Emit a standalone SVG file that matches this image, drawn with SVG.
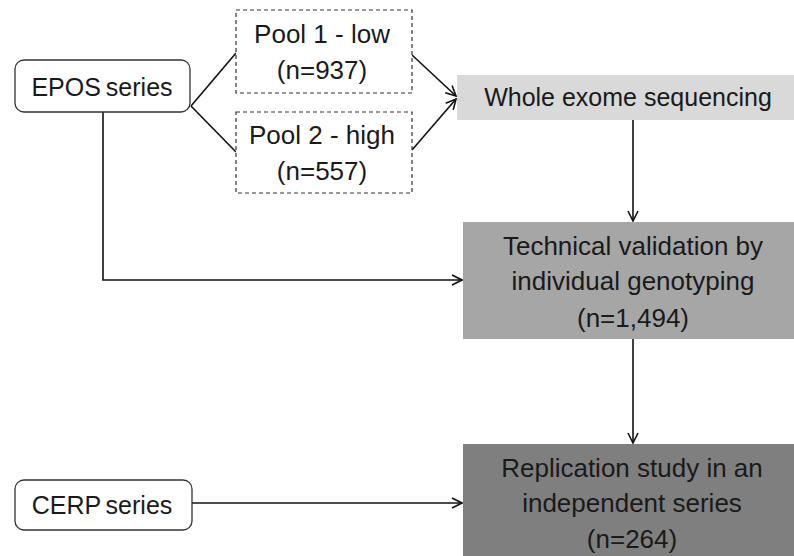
<svg xmlns="http://www.w3.org/2000/svg" width="794" height="556" viewBox="0 0 794 556">
<style>
text{font-family:"Liberation Sans",Arial,sans-serif;font-size:26px;fill:#1a1a1a;text-anchor:middle}
.s{font-size:25px;word-spacing:-2px}
.w{font-size:25px}
.rnd{fill:#fff;stroke:#333;stroke-width:1.3}
.dash{fill:#fff;stroke:#333;stroke-width:1.2;stroke-dasharray:4 3}
.c{fill:none;stroke:#111;stroke-width:1.6}
</style>
<defs>
<marker id="a" viewBox="0 0 12 12" refX="11" refY="6" markerWidth="12" markerHeight="12" markerUnits="userSpaceOnUse" orient="auto">
<path d="M1,1 L11,6 L1,11" fill="none" stroke="#111" stroke-width="1.6"/>
</marker>
</defs>
<rect width="794" height="556" fill="#fff"/>
<g id="connectors">
<path class="c" d="M191,106 L236,53"/>
<path class="c" d="M191,106 L236,152"/>
<path class="c" d="M412,55 L456,96" marker-end="url(#a)"/>
<path class="c" d="M412,150 L456,99" marker-end="url(#a)"/>
<path class="c" d="M633,120 L633,221" marker-end="url(#a)"/>
<path class="c" d="M103,112 L103,280 L462,280" marker-end="url(#a)"/>
<path class="c" d="M633,339 L633,443" marker-end="url(#a)"/>
<path class="c" d="M192,503 L462,503" marker-end="url(#a)"/>
</g>
<g id="epos">
<rect class="rnd" x="15" y="60" width="175" height="52" rx="9"/>
<text class="s" x="102" y="96">EPOS series</text>
</g>
<g id="pool1">
<rect class="dash" x="236" y="10" width="176" height="83"/>
<text x="322" y="43">Pool 1 - low</text>
<text x="322" y="79">(n=937)</text>
</g>
<g id="pool2">
<rect class="dash" x="236" y="112" width="176" height="81"/>
<text x="322" y="144">Pool 2 - high</text>
<text x="322" y="180">(n=557)</text>
</g>
<g id="wes">
<rect x="457" y="75" width="337" height="45" fill="#d9d9d9"/>
<text class="w" x="628" y="106">Whole exome sequencing</text>
</g>
<g id="tech">
<rect x="463" y="222" width="331" height="117" fill="#a6a6a6"/>
<text x="633" y="255">Technical validation by</text>
<text x="633" y="290">individual genotyping</text>
<text x="633" y="327">(n=1,494)</text>
</g>
<g id="repl">
<rect x="463" y="444" width="331" height="112" fill="#7f7f7f"/>
<text x="632" y="477">Replication study in an</text>
<text x="632" y="512">independent series</text>
<text x="632" y="548">(n=264)</text>
</g>
<g id="cerp">
<rect class="rnd" x="15" y="480" width="177" height="50" rx="9"/>
<text class="s" x="102" y="514">CERP series</text>
</g>
</svg>
